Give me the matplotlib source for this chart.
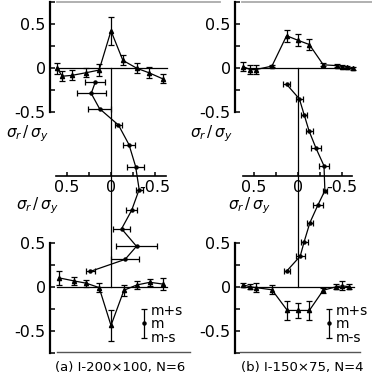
import matplotlib
matplotlib.use("Agg")
import matplotlib.pyplot as plt
from matplotlib.lines import Line2D
import numpy as np

plt.rcParams['font.family'] = ['DejaVu Sans']
plt.rcParams['mathtext.fontset'] = 'dejavusans'

# (a) I-200x100, N=6
# flange: position across flange (mm from web), mean m and std s of sigma_r/sigma_y
a_tf_pos = [-50, -45, -36, -23, -11, 0, 11, 24, 35, 48]
a_tf_m = [0.0, -0.09, -0.08, -0.05, -0.02, 0.425, 0.09, 0.0, -0.05, -0.12]
a_tf_s = [0.065, 0.057, 0.057, 0.05, 0.065, 0.16, 0.057, 0.057, 0.06, 0.05]
# web: position along web (mm from mid-depth)
a_web_pos = [87, 77, 63, 48, 30, 10, -11, -30, -47, -63, -75, -86]
a_web_m = [0.18, 0.225, 0.13, -0.085, -0.205, -0.28, -0.32, -0.235, -0.12, -0.29, -0.16, 0.235]
a_web_s = [0.115, 0.167, 0.13, 0.04, 0.07, 0.10, 0.04, 0.06, 0.10, 0.23, 0.16, 0.05]
a_bf_pos = [-48, -34, -23, -11, 0, 12, 24, 36, 48]
a_bf_m = [0.10, 0.065, 0.04, -0.01, -0.44, -0.04, 0.02, 0.05, 0.03]
a_bf_s = [0.08, 0.05, 0.04, 0.055, 0.18, 0.065, 0.045, 0.04, 0.07]

# (b) I-150x75, N=4
b_tf_pos = [-37, -32.5, -28.5, -17.5, -7.5, 0, 8, 17.5, 27, 30.5, 34, 37.5]
b_tf_m = [0.02, -0.015, -0.015, 0.025, 0.37, 0.32, 0.27, 0.04, 0.03, 0.02, 0.01, 0.0]
b_tf_s = [0.05, 0.05, 0.05, 0.015, 0.07, 0.065, 0.06, 0.015, 0.015, 0.02, 0.02, 0.015]
b_web_pos = [64, 54, 43, 32, 20, 8, -9, -19, -31, -44, -54, -64]
b_web_m = [0.125, -0.02, -0.075, -0.13, -0.21, -0.30, -0.31, -0.23, -0.14, -0.075, -0.03, 0.12]
b_web_s = [0.04, 0.04, 0.035, 0.04, 0.06, 0.06, 0.02, 0.055, 0.03, 0.04, 0.05, 0.035]
b_bf_pos = [-37, -32.5, -28.5, -17.5, -7, 0, 8, 17.5, 26.5, 30.5, 35]
b_bf_m = [0.02, 0.0, -0.01, -0.035, -0.27, -0.27, -0.27, -0.04, 0.0, 0.01, 0.0]
b_bf_s = [0.025, 0.03, 0.05, 0.05, 0.11, 0.085, 0.11, 0.03, 0.03, 0.05, 0.03]

captions = ["(a) I-200×100, N=6", "(b) I-150×75, N=4"]
ylabel = r'$\sigma_r\,/\,\sigma_y$'
tick_vals = [0.75, 0.5, 0.25, 0, -0.25, -0.5, -0.75]
tick_txt = {0.5: '0.5', 0: '0', -0.5: '-0.5'}

# layout in pixels
W, HF = 372, 379
SPX = 88.0  # pixels per unit sigma_r/sigma_y
layout = [
    dict(spine=50, right=170, center=111, half_b=50, ppm=1.08, half_h=100,
         tf0=68.3, bf0=286.7, leg=144.3, cap_x=120.5,
         lab_top=(27, 134), lab_bot=(37.5, 205.5), top_line=(57, 220), bot_line=(57, 190)),
    dict(spine=235, right=360, center=297.6, half_b=37.5, ppm=1.4667, half_h=75,
         tf0=68.3, bf0=286.7, leg=329, cap_x=302,
         lab_top=(211.5, 134), lab_bot=(249, 206), top_line=(242, 372), bot_line=(240, 360)),
]

fig = plt.figure(figsize=(3.72, 3.79), dpi=100)


def px_axes(x0, y0, x1, y1):
    ax = fig.add_axes([x0 / W, 1 - y1 / HF, (x1 - x0) / W, (y1 - y0) / HF])
    ax.patch.set_alpha(0)
    return ax


def fig_line(x0, x1, y, **kw):
    fig.add_artist(Line2D([x0 / W, x1 / W], [1 - y / HF, 1 - y / HF],
                          transform=fig.transFigure, **kw))


eb = dict(color='k', lw=0.9, elinewidth=0.9, capsize=2.4, capthick=0.9, clip_on=False)


def flange(L, top, pos, m, s):
    zero = L['tf0'] if top else L['bf0']
    lo, hi = (-0.5, 0.75) if top else (-0.75, 0.5)
    ax = px_axes(L['spine'], zero - hi * SPX, L['right'], zero - lo * SPX)
    ax.set_xlim((L['spine'] - L['center']) / L['ppm'], (L['right'] - L['center']) / L['ppm'])
    ax.set_ylim(lo, hi)
    for k in ('top', 'right'):
        ax.spines[k].set_visible(False)
    ax.spines['left'].set_linewidth(1.6)
    ax.spines['bottom'].set_position(('data', 0))
    ax.spines['bottom'].set_bounds(-L['half_b'], L['half_b'] * 1.03)
    ax.spines['bottom'].set_linewidth(0.9)
    ax.set_xticks([])
    t = [v for v in tick_vals if lo <= v <= hi]
    ax.set_yticks(t)
    ax.set_yticklabels([tick_txt.get(v, '') for v in t])
    ax.tick_params(axis='y', direction='in', length=3.6, width=1.1, labelsize=11.5, pad=3)
    ax.errorbar(pos, m, yerr=s, marker='^', ms=3, **eb)
    return ax


def web(L, pos, m, s):
    ax = px_axes(L['spine'], L['tf0'], L['right'], L['bf0'])
    ax.set_xlim((L['center'] - L['spine']) / SPX, (L['center'] - L['right']) / SPX)
    ax.set_ylim(-L['half_h'], L['half_h'])
    for k in ('top', 'right'):
        ax.spines[k].set_visible(False)
    ax.spines['left'].set_position(('data', 0))
    ax.spines['left'].set_bounds(-L['half_h'], L['half_h'])
    ax.spines['left'].set_linewidth(0.9)
    ax.spines['bottom'].set_position(('axes', 0.507))
    ax.spines['bottom'].set_bounds(-0.62, 0.62)
    ax.spines['bottom'].set_linewidth(1.2)
    ax.tick_params(axis='y', left=False, labelleft=False)
    xt = [0.5, 0.25, 0, -0.25, -0.5]
    ax.set_xticks(xt)
    ax.set_xticklabels([tick_txt.get(v, '') for v in xt])
    ax.tick_params(axis='x', direction='in', length=3, width=1.1, labelsize=11.5, pad=3)
    ax.errorbar(m, pos, xerr=s, marker='o', ms=2.2, **eb)
    return ax


def legend(L):
    x = L['leg']
    ax = px_axes(x - 6, 300, x + 50, 345)
    ax.set_xlim(x - 6, x + 50)
    ax.set_ylim(345, 300)
    ax.axis('off')
    ax.errorbar([x], [322.5], yerr=[[13.5], [15]], marker='o', ms=2.2, **eb)
    for txt, yy in (('m+s', 311), ('m', 323.5), ('m-s', 338)):
        ax.text(x + 6.5, yy, txt, fontsize=10, va='center', ha='left')


panels = [
    (a_tf_pos, a_tf_m, a_tf_s, a_web_pos, a_web_m, a_web_s, a_bf_pos, a_bf_m, a_bf_s),
    (b_tf_pos, b_tf_m, b_tf_s, b_web_pos, b_web_m, b_web_s, b_bf_pos, b_bf_m, b_bf_s),
]

for L, d, cap in zip(layout, panels, captions):
    flange(L, True, d[0], d[1], d[2])
    web(L, d[3], d[4], d[5])
    flange(L, False, d[6], d[7], d[8])
    legend(L)
    for (lx, ly) in (L['lab_top'], L['lab_bot']):
        fig.text(lx / W, 1 - ly / HF, ylabel, fontsize=11, ha='center', va='center')
    fig.text(L['cap_x'] / W, 1 - 367 / HF, cap, fontsize=9.5, ha='center', va='center')
    fig_line(L['top_line'][0], L['top_line'][1], 2, color='#aaaaaa', lw=1.3)
    fig_line(L['bot_line'][0], L['bot_line'][1], 352, color='#555555', lw=1.0)

fig.savefig("out.png", dpi=100)
